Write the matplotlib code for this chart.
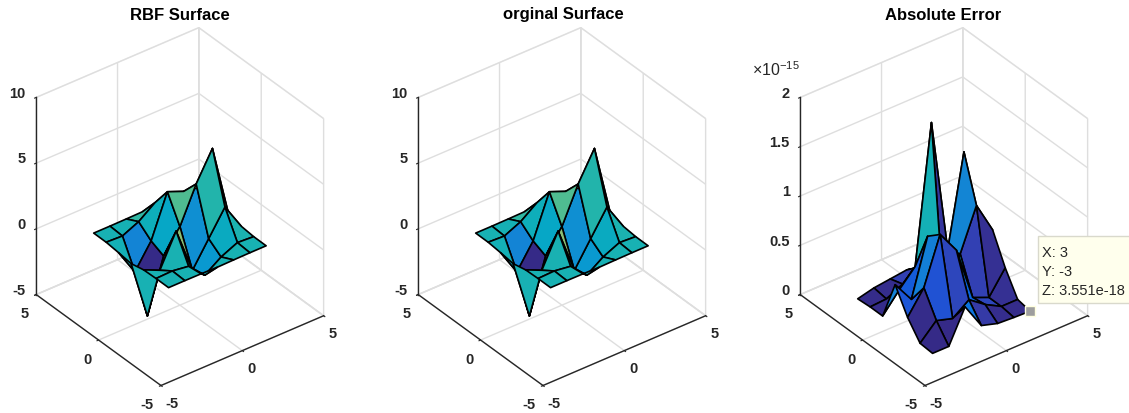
import numpy as np
import matplotlib
matplotlib.use("Agg")
import matplotlib.pyplot as plt
from matplotlib.colors import LinearSegmentedColormap
from matplotlib.patches import Rectangle

plt.rcParams['font.family'] = ['Liberation Sans', 'DejaVu Sans']
plt.rcParams['mathtext.default'] = 'regular'

grid_vals = [-3, -2, -1, 0, 1, 2, 3]

# rows are x = -3..3, columns y = -3..3
z_surface = [
    [0.00007, 0.0034, -0.0298, -0.2450, -0.1100, -0.0043, -0.00001],
    [0.00075, 0.0468, -0.592, -4.759, -2.102, -0.0617, 0.00042],
    [-0.0088, -0.130, 1.856, -0.724, -0.273, 0.4996, 0.0130],
    [-0.0365, -1.333, -1.652, 0.981, 2.937, 1.412, 0.0331],
    [-0.0137, -0.481, 0.229, 3.689, 2.434, 0.5805, 0.0124],
    [0.00002, 0.0797, 2.097, 5.859, 2.210, 0.1329, 0.00132],
    [0.00003, 0.0053, 0.110, 0.2999, 0.1107, 0.00566, 0.00004],
]

# in units of 1e-15
z_error = [
    [0.00, 0.01, 0.18, 0.42, 0.01, 0.01, 0.00],
    [0.00, 0.17, 0.41, 0.20, 0.20, 0.02, 0.04],
    [0.33, 0.12, 0.88, 0.77, 0.37, 0.10, 0.06],
    [0.07, 0.24, 0.65, 0.05, 1.76, 0.20, 0.08],
    [0.02, 0.12, 0.10, 0.45, 0.40, 0.15, 0.05],
    [0.01, 0.03, 0.03, 0.87, 1.32, 0.15, 0.05],
    [0.00355, 0.03, 0.26, 0.55, 0.25, 0.10, 0.02],
]

titles = ["RBF Surface", "orginal Surface", "Absolute Error"]
xy_ticks = [-5, 0, 5]
xy_labels = ["-5", "0", "5"]
z_ticks_surface = [-5, 0, 5, 10]
z_labels_surface = ["-5", "0", "5", "10"]
z_ticks_error = [0, 0.5, 1, 1.5, 2]
z_labels_error = ["0", "0.5", "1", "1.5", "2"]
tip_point = (3, -3, 0.00355)
tip_lines = ["X: 3", "Y: -3", "Z: 3.551e-18"]

parula = LinearSegmentedColormap.from_list("parula", [
    (0.2081, 0.1663, 0.5292), (0.2081, 0.2386, 0.6771), (0.1253, 0.3242, 0.8303),
    (0.0060, 0.4086, 0.8828), (0.0498, 0.4586, 0.8641), (0.0779, 0.5040, 0.8384),
    (0.0641, 0.5570, 0.8240), (0.0265, 0.6137, 0.8135), (0.0228, 0.6535, 0.7768),
    (0.0590, 0.6838, 0.7254), (0.1453, 0.7098, 0.6646), (0.2586, 0.7317, 0.5954),
    (0.3953, 0.7459, 0.5244), (0.5300, 0.7491, 0.4661), (0.6473, 0.7456, 0.4188),
    (0.7525, 0.7384, 0.3768), (0.8507, 0.7299, 0.3360), (0.9450, 0.7261, 0.2886),
    (0.9990, 0.7653, 0.2164), (0.9789, 0.8271, 0.1633), (0.9589, 0.8949, 0.1132),
    (0.9763, 0.9831, 0.0538)])

W, H = 1129, 414
AX = 364
dark = (0.15, 0.15, 0.15)
light = (0.87, 0.87, 0.87)

fig = plt.figure(figsize=(W / 100, H / 100), dpi=100)


def panel(cx, cy, z, zlim, zticks, zlabels, title, tx, zsort='average'):
    ax = fig.add_axes([(cx - AX / 2) / W, 1 - (cy + AX / 2) / H, AX / W, AX / H],
                      projection='3d', proj_type='ortho')
    ax.patch.set_alpha(0)
    ax.computed_zorder = False
    ax.view_init(elev=34, azim=-127.5)
    ax.set_box_aspect((1, 1, 1.16), zoom=1.0)
    z = np.array(z)
    X, Y = np.meshgrid(grid_vals, grid_vals, indexing='ij')
    colors = parula((z - z.min()) / (z.max() - z.min()))
    surf = ax.plot_surface(X, Y, z, facecolors=colors, shade=False, rstride=1, cstride=1,
                           edgecolor='black', linewidth=1.2, antialiased=True)
    surf.set_zsort(zsort)
    ax.set_xlim(-5, 5, view_margin=0)
    ax.set_ylim(-5, 5, view_margin=0)
    ax.set_zlim(*zlim, view_margin=0)
    ax.set_xticks(xy_ticks)
    ax.set_xticklabels(xy_labels)
    ax.set_yticks(xy_ticks)
    ax.set_yticklabels(xy_labels)
    ax.set_zticks(zticks)
    ax.set_zticklabels(zlabels)
    for axis in (ax.xaxis, ax.yaxis, ax.zaxis):
        axis.pane.set_facecolor((1, 1, 1, 0))
        axis.pane.set_edgecolor(light)
        axis.line.set_color(dark)
        axis.line.set_linewidth(1.0)
        axis._axinfo['grid'].update(color=light, linewidth=1.0)
        axis._axinfo['tick'].update(inward_factor=0.12, outward_factor=0.0)
        for lab in axis.get_ticklabels():
            lab.set_fontweight('bold')
            lab.set_fontsize(10.5)
            lab.set_color(dark)
    ax.tick_params(colors=dark)
    ax.tick_params(axis='x', pad=-3)
    ax.tick_params(axis='y', pad=-2)
    ax.tick_params(axis='z', pad=-3)
    for lab in ax.xaxis.get_ticklabels():
        lab.set_ha('left')
    for lab in ax.yaxis.get_ticklabels():
        lab.set_ha('right')
    for lab in ax.zaxis.get_ticklabels():
        lab.set_ha('right')
        lab.set_va('baseline')
    fig.text(tx / W, 1 - 15 / H, title, ha='center', va='center',
             fontsize=12, fontweight='bold', color='black')
    return ax


panel(175, 212.5, z_surface, (-5, 10), z_ticks_surface, z_labels_surface, titles[0], 180)
panel(557, 212.5, z_surface, (-5, 10), z_ticks_surface, z_labels_surface, titles[1], 563)
ax3 = panel(939, 212.5, z_error, (0, 2), z_ticks_error, z_labels_error, titles[2], 943, zsort='max')

fig.text(752 / W, 1 - 70 / H, r"$\times$10$^{-15}$", fontsize=11.5, color=dark,
         ha='left', va='center')

ax3.scatter(*[[v] for v in tip_point], marker='s', s=60, color=(0.62, 0.62, 0.62),
            edgecolor=(1, 1, 0.88), linewidth=1, depthshade=False, zorder=10)

fig.add_artist(Rectangle((1038 / W, 1 - 304 / H), 95 / W, 67 / H, transform=fig.transFigure,
                         facecolor=(1, 1, 0.93), edgecolor=(0.85, 0.85, 0.8), linewidth=1))
for k, line in enumerate(tip_lines):
    fig.text(1042 / W, 1 - (253 + k * 19) / H, line, fontsize=10.5, color=dark,
             ha='left', va='center')

fig.savefig("out.png", dpi=100)
